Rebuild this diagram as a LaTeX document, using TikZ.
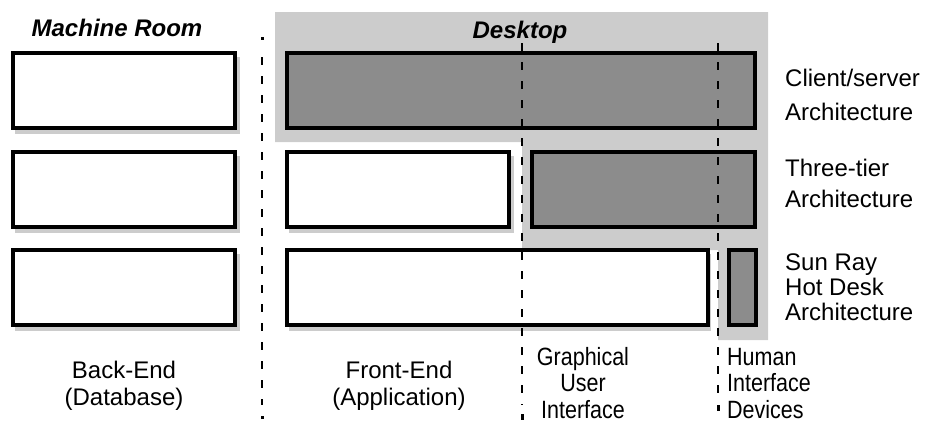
\documentclass[tikz,border=0pt]{standalone}
\usepackage{fontspec}
\setmainfont{Liberation Sans}
\newfontfamily\narrowsans{Liberation Sans}[FakeStretch=0.86]
\definecolor{lightdots}{gray}{0.80}
\definecolor{darkdots}{gray}{0.55}
\begin{document}
\begin{tikzpicture}[x=1pt,y=-1pt,
  wbox/.style={draw=black, line width=4pt, fill=white, rectangle, inner sep=0pt},
  dbox/.style={draw=black, line width=4pt, fill=darkdots, rectangle, inner sep=0pt},
  shade/.style={fill=lightdots, draw=none},
  divider/.style={line width=1.4pt, dash pattern=on 8pt off 11pt},
  enddot/.style={fill=black, draw=none, minimum size=3pt, inner sep=0pt, rectangle},
  lbl/.style={font=\fontsize{24}{24}\selectfont, inner sep=0pt, anchor=base},
  nlbl/.style={font=\narrowsans\fontsize{25}{25}\selectfont, inner sep=0pt, anchor=base},
  rlbl/.style={lbl, anchor=base west},
  ttl/.style={font=\fontsize{24}{24}\selectfont\bfseries\itshape, inner sep=0pt, anchor=base}]
\useasboundingbox (0,0) rectangle (927,424);

% light shaded desktop region
\fill[shade] (275,12) -- (768,12) -- (768,340) -- (718,340) -- (718,250)
  -- (522,250) -- (522,142) -- (275,142) -- cycle;

% shadows of white boxes
\fill[shade] (15,57) rectangle (240,134);
\fill[shade] (15,156) rectangle (240,233);
\fill[shade] (15,254) rectangle (240,331);
\fill[shade] (289,156) rectangle (514,233);
\fill[shade] (289,254) rectangle (711,331);

% machine room boxes
\node[wbox, minimum width=222pt, minimum height=75pt] (be1) at (124,90.5) {};
\node[wbox, minimum width=222pt, minimum height=75pt] (be2) at (124,189.5) {};
\node[wbox, minimum width=222pt, minimum height=75pt] (be3) at (124,287.5) {};

% row 1: client/server
\node[dbox, minimum width=468pt, minimum height=75pt] (cs) at (521,90.5) {};
% row 2: three-tier
\node[wbox, minimum width=222pt, minimum height=75pt] (fe2) at (398,189.5) {};
\node[dbox, minimum width=223pt, minimum height=75pt] (tt) at (643.5,189.5) {};
% row 3: sun ray
\node[wbox, minimum width=421pt, minimum height=75pt] (fe3) at (497.5,287.5) {};
\node[dbox, minimum width=27pt, minimum height=75pt] (sr) at (742.5,287.5) {};

% dividers
\coordinate (d1t) at (262,38);
\coordinate (d1b) at (262,417);
\coordinate (d2t) at (522,43);
\coordinate (d2b) at (522,417);
\coordinate (d3t) at (718,43);
\coordinate (d3b) at (718,408);
\draw[divider] (262,57) -- (262,405);
\node[enddot] (d1top) at (d1t) {};
\node[enddot] (d1bot) at (d1b) {};
\draw[divider] (d2t) -- (522,405);
\node[enddot, minimum height=6pt] (d2bot) at (d2b) {};
\draw[divider] (d3t) -- (718,398);
\node[enddot, minimum height=6pt] (d3bot) at (d3b) {};

% titles
\node[ttl] (mr) at (117,36) {Machine Room};
\node[ttl] (dt) at (520,38) {Desktop};

% right labels
\node[rlbl] (r1a) at (785,86) {Client/server};
\node[rlbl] (r1b) at (785,120) {Architecture};
\node[rlbl] (r2a) at (785,176) {Three-tier};
\node[rlbl] (r2b) at (785,207) {Architecture};
\node[rlbl] (r3a) at (785,270) {Sun Ray};
\node[rlbl] (r3b) at (785,295) {Hot Desk};
\node[rlbl] (r3c) at (785,320) {Architecture};

% bottom labels
\node[lbl] (b1a) at (124,378) {Back-End};
\node[lbl] (b1b) at (124,405) {(Database)};
\node[lbl] (b2a) at (399,378) {Front-End};
\node[lbl] (b2b) at (399,405) {(Application)};
\node[nlbl] (b3a) at (583,365) {Graphical};
\node[nlbl] (b3b) at (583,391) {User};
\node[nlbl] (b3c) at (583,418) {Interface};
\node[nlbl, anchor=base west] (b4a) at (727,365) {Human};
\node[nlbl, anchor=base west] (b4b) at (727,391) {Interface};
\node[nlbl, anchor=base west] (b4c) at (727,418) {Devices};
\end{tikzpicture}
\end{document}
